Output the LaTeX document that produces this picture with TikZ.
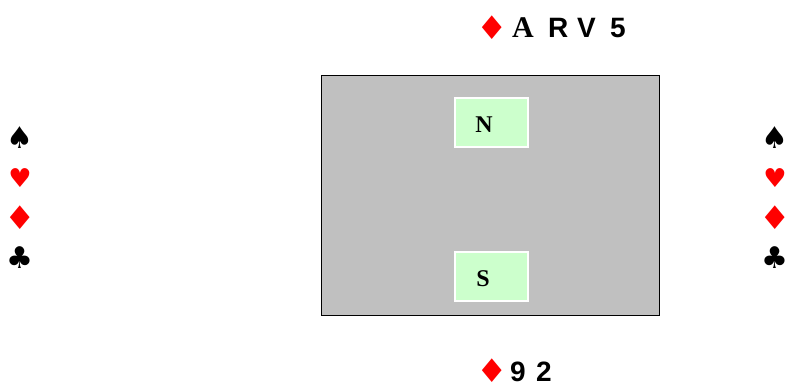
\documentclass[tikz,border=0pt]{standalone}
\usepackage{graphicx}
\usepackage{fontspec}
\setmainfont{Liberation Serif}
\setsansfont{Liberation Sans}
\newfontfamily\suitfont{DejaVu Sans}
\definecolor{tablegray}{HTML}{C0C0C0}
\definecolor{seatgreen}{HTML}{CCFFCC}
\definecolor{suitred}{HTML}{FF0000}
\newcommand{\wdiam}{\scalebox{1.35}[1.25]{♦}}
\begin{document}
\begin{tikzpicture}[x=1pt,y=-1pt,
  seat/.style={draw=white,line width=1.2pt,fill=seatgreen,minimum width=73pt,minimum height=49pt,inner sep=0pt},
  seatlabel/.style={font=\fontsize{24}{24}\selectfont\bfseries},
  suit/.style={font=\suitfont\fontsize{26}{26}\selectfont,inner sep=0pt},
  bigsuit/.style={suit,font=\suitfont\fontsize{30}{30}\selectfont},
  redsuit/.style={suit,text=suitred},
  hand/.style={font=\sffamily\bfseries\fontsize{28}{28}\selectfont,inner sep=0pt,anchor=base west,text depth=0pt}]
\useasboundingbox (0,0) rectangle (785,384);
\node[draw=black,line width=1pt,fill=tablegray,minimum width=338pt,minimum height=240pt,inner sep=0pt] (table) at (490,195) {};
\node[seat] (north) at (491.5,122.5) {};
\node[seatlabel] (nlabel) at (484,125) {N};
\node[seat] (south) at (491.5,276.5) {};
\node[seatlabel] (slabel) at (483,279) {S};
% top hand
\node[redsuit] (topd) at (492,28) {\wdiam};
\node[hand,font=\rmfamily\bfseries\fontsize{30}{30}\selectfont] (topa) at (512,37) {A};
\node[hand] (topr) at (548,37) {R};
\node[hand] (topv) at (577,37) {V};
\node[hand] (top5) at (610,37) {5};
% bottom hand
\node[redsuit] (botd) at (492,371) {\wdiam};
\node[hand] (bot9) at (510,381) {9};
\node[hand] (bot2) at (536,381) {2};
% left
\node[bigsuit] (ls) at (20,138) {♠};
\node[redsuit] (lh) at (20,178) {♥};
\node[redsuit] (ld) at (20,218) {\wdiam};
\node[bigsuit] (lc) at (20,258) {♣};
% right
\node[bigsuit] (rs) at (775,138) {♠};
\node[redsuit] (rh) at (775,178) {♥};
\node[redsuit] (rd) at (775,218) {\wdiam};
\node[bigsuit] (rc) at (775,258) {♣};
\end{tikzpicture}
\end{document}
